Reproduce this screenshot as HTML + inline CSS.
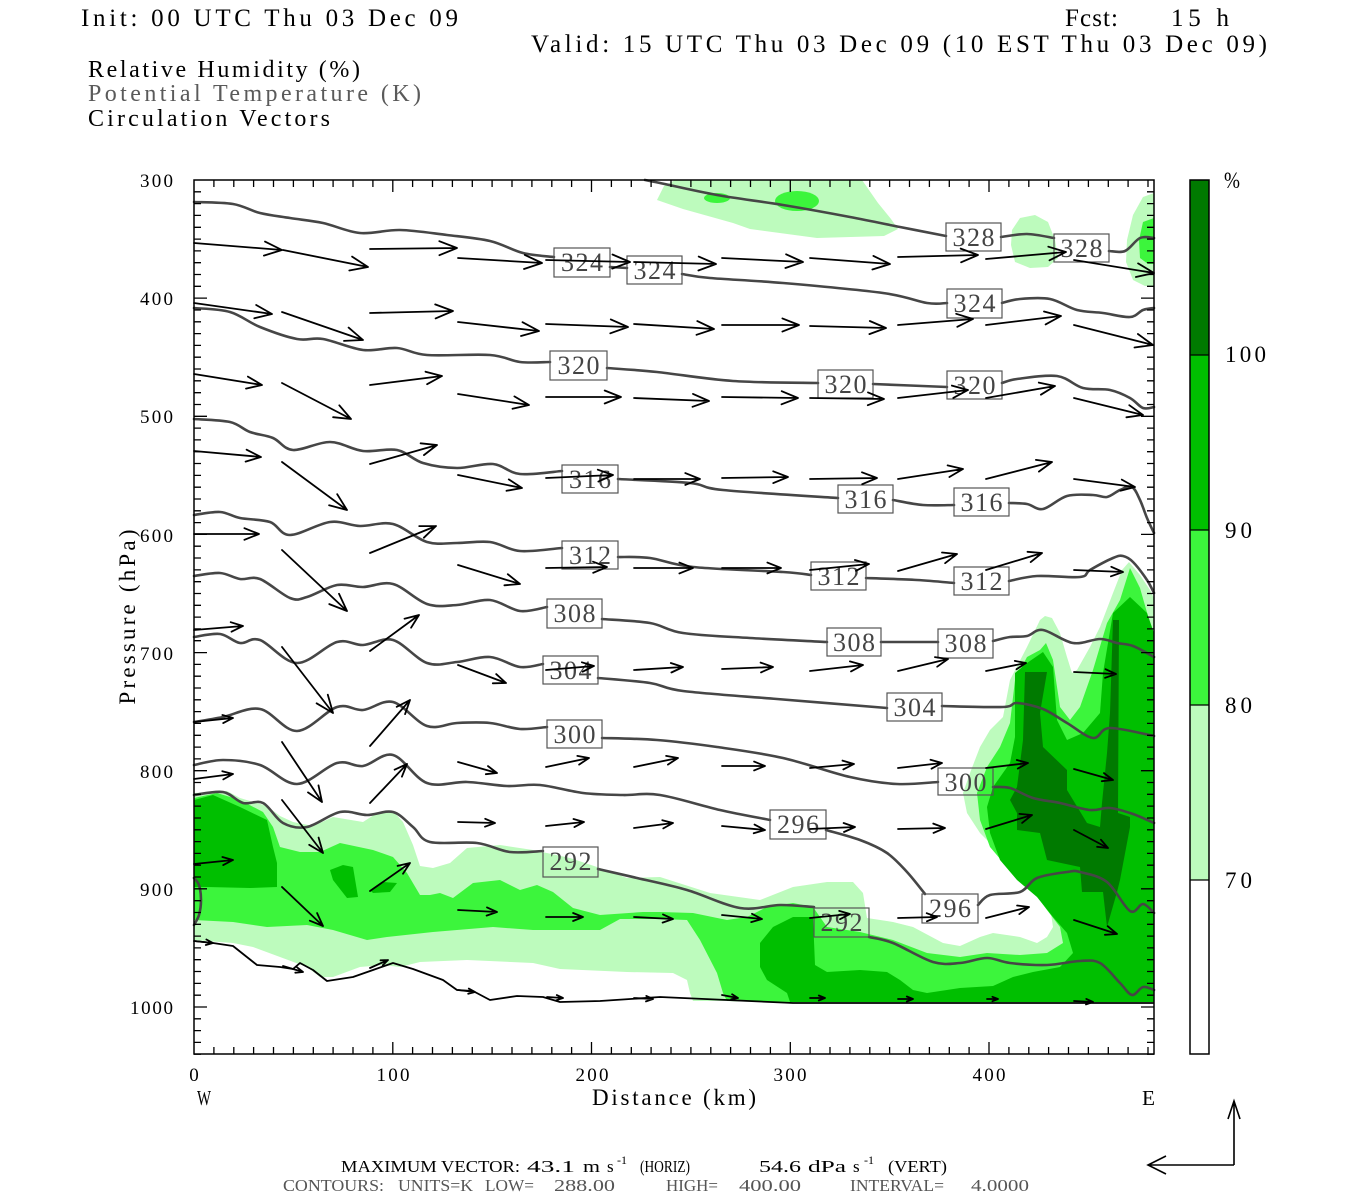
<!DOCTYPE html>
<html><head><meta charset="utf-8">
<style>
html,body{margin:0;padding:0;background:#fff;}
svg{display:block;}
text{font-family:"Liberation Serif",serif;}
</style></head>
<body>
<svg id="s" xmlns="http://www.w3.org/2000/svg" width="1350" height="1200" viewBox="0 0 1350 1200">
<rect width="1350" height="1200" fill="#fff"/>

<!-- header text -->
<text x="81" y="26" font-size="25" textLength="377" lengthAdjust="spacing">Init: 00 UTC Thu 03 Dec 09</text>
<text x="1065" y="26" font-size="25" textLength="53" lengthAdjust="spacing">Fcst:</text>
<text x="1171" y="26" font-size="25" textLength="58" lengthAdjust="spacing">15 h</text>
<text x="531" y="52" font-size="25" textLength="736" lengthAdjust="spacing">Valid: 15 UTC Thu 03 Dec 09 (10 EST Thu 03 Dec 09)</text>
<text x="88" y="77" font-size="24" textLength="272" lengthAdjust="spacing">Relative Humidity (%)</text>
<text x="88" y="101" font-size="24" textLength="333" lengthAdjust="spacing" fill="#5a5a5a">Potential Temperature (K)</text>
<text x="88" y="126" font-size="24" textLength="242" lengthAdjust="spacing">Circulation Vectors</text>

<!-- RH fills -->
<g stroke="none">
<polygon fill="#bdfbbd" points="657,200 664,186 675,180 862,180 878,203 891,219 898,229 884,236 817,238 750,229 733,223 683,209"/>
<ellipse fill="#3cf53c" cx="717" cy="198" rx="13" ry="5"/>
<ellipse fill="#3cf53c" cx="797" cy="201" rx="22" ry="10"/>
<polygon fill="#bdfbbd" points="1012,230 1020,218 1035,215 1048,222 1055,240 1058,258 1048,267 1030,268 1015,262 1011,245"/>
<polygon fill="#bdfbbd" points="1154,193 1143,197 1133,215 1127,240 1126,262 1133,280 1145,286 1154,286"/>
<polygon fill="#3cf53c" points="1154,218 1143,222 1139,240 1140,258 1148,264 1154,264"/>

<polygon fill="#bdfbbd" points="194,793 227,791 240,798 267,806 280,816 293,822 313,826 333,817 363,822 377,813 393,811 403,822 413,845 420,866 433,868 450,863 467,848 500,845 533,850 570,858 600,868 627,878 660,877 710,893 760,900 793,887 827,882 853,882 863,893 867,918 893,922 913,927 943,943 960,946 980,937 993,933 1020,937 1037,943 1047,937 1053,927 1050,907 1040,890 1027,880 1000,853 980,833 967,813 963,793 970,773 980,747 990,730 1003,717 1010,680 1027,647 1040,620 1045,616 1052,618 1060,633 1067,657 1072,673 1077,670 1090,647 1100,627 1113,593 1122,570 1129,562 1140,575 1150,590 1154,598 1154,1002 1020,1003 793,1003 727,1001 693,1001 690,993 687,980 673,973 627,972 560,969 533,963 467,960 420,962 400,967 383,965 360,967 333,977 320,977 307,967 280,957 253,947 233,943 194,940"/>

<polygon fill="#3cf53c" points="194,798 217,793 240,800 263,812 273,827 280,847 300,852 320,852 340,843 373,850 393,857 407,873 420,895 430,895 440,893 453,898 473,883 500,880 520,890 537,885 553,892 573,908 600,915 643,912 660,912 693,913 727,920 747,917 767,907 793,903 813,907 827,927 860,932 893,940 927,953 960,957 987,953 1020,955 1047,953 1063,943 1060,927 1047,910 1030,887 1007,867 990,847 980,820 977,793 987,767 1000,747 1010,723 1015,680 1027,657 1040,650 1046,643 1053,660 1060,707 1070,720 1080,707 1093,670 1107,623 1120,600 1130,568 1140,588 1150,623 1154,645 1154,1002 1020,1002 793,1002 727,1001 723,993 717,973 700,940 687,920 660,919 620,919 600,930 533,930 493,927 433,932 387,937 367,940 333,930 307,925 267,927 233,922 194,920"/>

<polygon fill="#00bf00" points="194,800 213,795 240,807 267,820 273,847 277,863 277,887 250,888 207,887 194,887"/>
<polygon fill="#00bf00" points="330,870 343,865 353,867 358,897 347,898 333,880"/>
<polygon fill="#00bf00" points="370,890 383,882 397,883 390,892 373,893"/>
<polygon fill="#00bf00" points="760,943 773,927 793,917 813,917 815,965 827,972 860,970 887,972 900,980 913,990 927,993 960,988 993,986 1013,977 1033,972 1060,967 1073,953 1067,933 1053,917 1037,897 1017,880 1000,860 990,833 987,807 993,787 1010,763 1015,737 1015,673 1027,663 1043,652 1053,667 1057,720 1067,740 1083,733 1100,713 1103,673 1113,613 1130,597 1147,613 1154,633 1154,1002 790,1002 787,993 767,980 760,967"/>

<polygon fill="#007a00" points="1025,672 1047,672 1040,713 1043,747 1067,770 1067,790 1087,823 1100,827 1102,803 1107,753 1110,713 1113,620 1119,620 1118,813 1130,817 1130,827 1120,880 1117,892 1107,927 1103,892 1082,892 1080,867 1047,860 1040,833 1017,830 1017,813 1010,800 1017,787 1023,740"/>
</g>

<!-- theta contours -->
<g id="cont" fill="none" stroke="#464646" stroke-width="2.6" stroke-linejoin="round" stroke-linecap="round">
<polyline points="645,180 660,183 717,195 783,205 850,217 900,227 946,236"/>
<polyline points="1001,237 1027,234 1054,238"/>
<polyline points="1109,251 1125,251 1140,238 1154,238"/>

<polyline points="194,202 233,204 260,213 290,218 323,223 360,233 400,230 447,235 490,241 523,253 554,257"/>
<polyline points="610,267 627,268"/>
<polyline points="682,274 710,278 783,283 883,293 927,303 947,303"/>
<polyline points="1002,303 1020,299 1050,299 1077,310 1103,313 1130,317 1143,310 1154,308"/>

<polyline points="194,308 230,312 260,327 297,339 323,339 363,350 397,348 427,355 490,355 520,362 550,362"/>
<polyline points="607,368 657,372 733,381 818,383"/>
<polyline points="873,384 947,387"/>
<polyline points="1002,383 1017,379 1057,376 1083,388 1110,390 1130,398 1143,408 1154,407"/>

<polyline points="194,419 230,422 250,432 273,438 293,450 330,442 363,451 397,450 423,463 457,468 493,464 520,474 562,471"/>
<polyline points="618,479 690,483 723,490 838,498"/>
<polyline points="893,500 923,505 954,505"/>
<polyline points="1009,503 1027,504 1043,509 1067,496 1093,495 1107,497 1120,490 1132,487 1140,500 1147,518 1154,533"/>

<polyline points="194,515 220,512 240,518 270,522 290,535 330,522 360,526 393,524 427,542 457,543 490,542 520,551 562,548"/>
<polyline points="618,557 650,558 693,567 783,572 811,575"/>
<polyline points="866,578 917,580 954,583"/>
<polyline points="1009,581 1037,576 1080,577 1090,570 1113,558 1123,556 1133,562 1147,580 1154,593"/>

<polyline points="194,576 220,573 240,579 260,579 290,598 307,597 337,585 363,587 393,584 427,604 457,605 490,600 520,611 547,607"/>
<polyline points="602,619 650,623 683,633 750,638 827,642"/>
<polyline points="881,642 938,642"/>
<polyline points="993,641 1010,637 1027,636 1043,630 1073,643 1100,639 1117,643 1133,646 1154,657"/>

<polyline points="194,637 220,634 240,643 260,640 297,663 337,642 363,645 393,640 427,663 457,662 490,657 520,667 543,664"/>
<polyline points="598,678 650,683 683,691 777,699 887,708"/>
<polyline points="942,706 1003,707 1017,703 1043,709 1067,723 1093,738 1110,728 1154,736"/>

<polyline points="194,722 223,717 260,709 297,731 337,707 363,710 393,702 427,726 457,723 490,723 520,729 547,727"/>
<polyline points="602,738 657,740 717,747 783,758 850,777 897,784 938,782"/>
<polyline points="993,787 1010,788 1033,798 1060,803 1090,810 1110,808 1133,814 1154,823"/>

<polyline points="194,765 223,760 260,765 297,784 337,763 363,766 393,755 427,783 467,782 507,786 540,785 583,793 623,795 660,795 720,810 770,820"/>
<polyline points="826,830 860,840 887,853 907,872 925,894"/>
<polyline points="978,905 990,895 1020,892 1037,878 1067,872 1080,872 1107,882 1130,911 1143,904 1154,913"/>

<polyline points="194,795 223,792 243,803 263,803 283,823 307,827 340,812 367,815 393,812 413,827 430,842 477,843 510,852 543,851"/>
<polyline points="598,869 637,878 687,890 740,908 780,905 814,907"/>
<polyline points="869,937 893,943 933,962 960,963 987,958 1010,963 1047,965 1080,961 1100,963 1120,983 1132,995 1143,987 1154,990"/>

<polyline points="194,878 199,885 201,900 199,915 194,925"/>
</g>
<g id="gnd" fill="none" stroke="#000" stroke-width="1.8" stroke-linejoin="round">
<polyline points="194,941 213,943 233,946 257,965 280,967 293,969 300,963 313,970 327,981 353,977 373,970 393,963 413,969 443,980 457,990 473,991 490,1000 517,996 543,997 560,1002 600,1001 660,997 793,1003 1020,1003 1154,1003"/>
</g>

<!-- contour labels -->
<g id="labs" fill="none" stroke="#555" stroke-width="1.2"></g>
<g id="labt" fill="#444" font-size="26" text-anchor="middle"></g>

<!-- vectors -->
<path id="arr" fill="none" stroke="#000" stroke-width="1.8" stroke-linecap="round" stroke-linejoin="round" d=""/>

<!-- frame and ticks -->
<rect x="194" y="180" width="960" height="874" fill="none" stroke="#000" stroke-width="1.5"/>
<path id="ticks" fill="none" stroke="#000" stroke-width="1.3" d=""/>

<!-- axis labels -->
<g font-size="19" text-anchor="end">
<text x="173" y="187" textLength="33" lengthAdjust="spacing">300</text>
<text x="173" y="305" textLength="33" lengthAdjust="spacing">400</text>
<text x="173" y="423" textLength="33" lengthAdjust="spacing">500</text>
<text x="173" y="542" textLength="33" lengthAdjust="spacing">600</text>
<text x="173" y="660" textLength="33" lengthAdjust="spacing">700</text>
<text x="173" y="778" textLength="33" lengthAdjust="spacing">800</text>
<text x="173" y="896" textLength="33" lengthAdjust="spacing">900</text>
<text x="173" y="1014" textLength="43" lengthAdjust="spacing">1000</text>
</g>
<g font-size="19" text-anchor="middle">
<text x="194" y="1081">0</text>
<text x="393" y="1081" textLength="33" lengthAdjust="spacing">100</text>
<text x="592" y="1081" textLength="33" lengthAdjust="spacing">200</text>
<text x="790" y="1081" textLength="33" lengthAdjust="spacing">300</text>
<text x="989" y="1081" textLength="33" lengthAdjust="spacing">400</text>
</g>
<text x="197" y="1105" font-size="21" textLength="14" lengthAdjust="spacingAndGlyphs">W</text>
<text x="592" y="1105" font-size="23" textLength="164" lengthAdjust="spacing">Distance (km)</text>
<text x="1142" y="1105" font-size="21" textLength="13" lengthAdjust="spacingAndGlyphs">E</text>
<text transform="translate(135,617) rotate(-90)" font-size="23" text-anchor="middle" textLength="175" lengthAdjust="spacing">Pressure (hPa)</text>

<!-- colorbar -->
<rect x="1190" y="180" width="19" height="175" fill="#007a00"/>
<rect x="1190" y="355" width="19" height="175" fill="#00bf00"/>
<rect x="1190" y="530" width="19" height="175" fill="#3cf53c"/>
<rect x="1190" y="705" width="19" height="175" fill="#bdfbbd"/>
<rect x="1190" y="880" width="19" height="174" fill="#fff"/>
<path d="M1190,355H1209M1190,530H1209M1190,705H1209M1190,880H1209" stroke="#000" stroke-width="1.2"/>
<rect x="1190" y="180" width="19" height="874" fill="none" stroke="#000" stroke-width="1.5"/>
<g font-size="23">
<text x="1224" y="188" textLength="16" lengthAdjust="spacingAndGlyphs">%</text>
<text x="1225" y="362" textLength="41" lengthAdjust="spacing">100</text>
<text x="1225" y="538" textLength="27" lengthAdjust="spacing">90</text>
<text x="1225" y="713" textLength="27" lengthAdjust="spacing">80</text>
<text x="1225" y="888" textLength="27" lengthAdjust="spacing">70</text>
</g>

<!-- footer -->
<g font-size="17">
<text x="341" y="1172" textLength="179" lengthAdjust="spacingAndGlyphs">MAXIMUM VECTOR:</text>
<text x="527" y="1172" textLength="48" lengthAdjust="spacingAndGlyphs">43.1</text>
<text x="583" y="1172" textLength="17" lengthAdjust="spacingAndGlyphs">m</text>
<text x="607" y="1172">s</text>
<text x="617" y="1164" font-size="12">-1</text>
<text x="640" y="1172" textLength="50" lengthAdjust="spacingAndGlyphs">(HORIZ)</text>
<text x="759" y="1172" textLength="42" lengthAdjust="spacingAndGlyphs">54.6</text>
<text x="808" y="1172" textLength="38" lengthAdjust="spacingAndGlyphs">dPa</text>
<text x="853" y="1172">s</text>
<text x="864" y="1164" font-size="12">-1</text>
<text x="888" y="1172" textLength="59" lengthAdjust="spacingAndGlyphs">(VERT)</text>
</g>
<g font-size="17" fill="#555">
<text x="283" y="1191" textLength="101" lengthAdjust="spacingAndGlyphs">CONTOURS:</text>
<text x="398" y="1191" textLength="75" lengthAdjust="spacingAndGlyphs">UNITS=K</text>
<text x="485" y="1191" textLength="49" lengthAdjust="spacingAndGlyphs">LOW=</text>
<text x="554" y="1191" textLength="61" lengthAdjust="spacingAndGlyphs">288.00</text>
<text x="666" y="1191" textLength="52" lengthAdjust="spacingAndGlyphs">HIGH=</text>
<text x="739" y="1191" textLength="62" lengthAdjust="spacingAndGlyphs">400.00</text>
<text x="850" y="1191" textLength="94" lengthAdjust="spacingAndGlyphs">INTERVAL=</text>
<text x="971" y="1191" textLength="58" lengthAdjust="spacingAndGlyphs">4.0000</text>
</g>
<path d="M1234,1165H1148M1166,1156L1148,1165L1166,1174M1234,1165V1101M1228,1119L1234,1101L1240,1119" fill="none" stroke="#000" stroke-width="1.6"/>
</svg>
<script>
(function(){
var NS="http://www.w3.org/2000/svg";
// smooth contour polylines
function smoothGroup(id){
  var g=document.getElementById(id);
  var pls=g.querySelectorAll("polyline");
  for(var q=0;q<pls.length;q++){
    var pl=pls[q];
    var raw=pl.getAttribute("points").trim().split(/\s+/);
    var P=[];
    for(var r=0;r<raw.length;r++){var c=raw[r].split(",");P.push([+c[0],+c[1]]);}
    var d="M"+P[0][0]+","+P[0][1];
    for(var i=0;i<P.length-1;i++){
      var p0=P[i-1]||P[i],p1=P[i],p2=P[i+1],p3=P[i+2]||P[i+1];
      var c1x=p1[0]+(p2[0]-p0[0])/6,c1y=p1[1]+(p2[1]-p0[1])/6;
      var c2x=p2[0]-(p3[0]-p1[0])/6,c2y=p2[1]-(p3[1]-p1[1])/6;
      d+="C"+c1x.toFixed(1)+","+c1y.toFixed(1)+" "+c2x.toFixed(1)+","+c2y.toFixed(1)+" "+p2[0]+","+p2[1];
    }
    var pa=document.createElementNS(NS,"path");
    pa.setAttribute("d",d);
    g.replaceChild(pa,pl);
  }
}
smoothGroup("cont");
// ticks
var d="";
for(var p=310;p<=1040;p+=10){
  var y=(180+(p-300)*1.1814).toFixed(1);
  var L=(p%100===0)?13:7;
  d+="M194,"+y+"h"+L+"M1154,"+y+"h-"+L;
}
for(var k=10;k<=480;k+=10){
  var x=(194+k*1.9875).toFixed(1);
  var L2=(k%100===0)?12:7;
  d+="M"+x+",180v"+L2+"M"+x+",1054v-"+L2;
}
document.getElementById("ticks").setAttribute("d",d);
// arrows
var A=[
[194,243,282,250],[283,250,368,267],[370,249,457,248],[458,258,542,263],[546,260,630,262],[634,262,716,264],[722,258,803,262],[810,258,890,264],[898,257,978,255],[986,259,1066,252],[1074,260,1154,273],
[194,303,272,314],[282,312,363,340],[370,313,453,311],[458,322,539,331],[546,324,628,327],[634,324,714,329],[722,325,799,325],[810,326,886,328],[898,325,973,319],[986,325,1061,316],[1074,325,1153,345],
[194,374,262,385],[282,383,351,419],[370,385,442,376],[458,394,529,405],[546,397,621,397],[634,398,709,401],[722,397,798,398],[810,398,884,399],[898,398,968,390],[986,398,1055,386],[1074,398,1143,415],
[194,451,261,457],[282,462,347,510],[370,464,437,445],[458,475,522,488],[546,478,613,475],[634,479,700,479],[722,478,788,477],[810,479,877,478],[898,479,963,469],[986,479,1052,462],[1074,479,1135,487],
[194,534,259,534],[282,550,347,611],[370,553,436,526],[458,565,520,584],[546,568,607,567],[634,568,693,568],[722,568,781,568],[810,570,869,564],[898,571,957,554],[986,570,1042,553],[1074,570,1123,572],
[194,630,243,626],[282,647,333,713],[370,651,419,615],[458,665,506,683],[546,670,594,666],[634,670,683,667],[722,669,773,667],[810,671,863,665],[898,671,948,659],[986,671,1026,663],[1074,672,1116,674],
[194,722,233,718],[282,742,322,802],[370,746,410,700],[458,762,497,773],[546,767,589,758],[634,767,678,758],[722,766,765,766],[810,768,854,764],[898,768,942,763],[986,768,1028,763],[1074,769,1113,780],
[194,779,233,774],[282,800,323,853],[370,803,407,764],[458,822,495,823],[546,826,584,822],[634,828,673,823],[722,826,765,830],[810,829,855,827],[898,829,945,828],[986,829,1032,815],[1074,830,1108,848],
[194,864,233,860],[282,887,323,926],[370,891,410,863],[458,910,497,912],[546,917,583,917],[634,917,673,919],[722,915,762,919],[810,918,850,914],[898,918,937,917],[986,918,1029,907],[1074,920,1117,934],
[194,941,213,943],[283,966,303,972],[370,968,388,960],[458,990,475,992],[547,997,563,998],[634,998,653,999],[722,995,738,998],[810,998,825,998],[898,999,913,999],[987,999,998,999],[1074,1001,1093,1002]
];
var ad="";
for(var i=0;i<A.length;i++){
  var a=A[i],x1=a[0],y1=a[1],x2=a[2],y2=a[3];
  var dx=x2-x1,dy=y2-y1,len=Math.sqrt(dx*dx+dy*dy);
  var h=Math.min(19,4+0.18*len),an=Math.atan2(dy,dx),t=0.38;
  var p1x=x2-h*Math.cos(an-t),p1y=y2-h*Math.sin(an-t);
  var p2x=x2-h*Math.cos(an+t),p2y=y2-h*Math.sin(an+t);
  ad+="M"+x1+","+y1+"L"+x2+","+y2+"M"+p1x.toFixed(1)+","+p1y.toFixed(1)+"L"+x2+","+y2+"L"+p2x.toFixed(1)+","+p2y.toFixed(1);
}
document.getElementById("arr").setAttribute("d",ad);
// labels
var Lb=[
[946,223,1001,251,"328"],[1054,234,1109,262,"328"],
[554,248,610,277,"324"],[627,256,682,284,"324"],[947,289,1002,318,"324"],
[550,351,607,380,"320"],[818,370,873,398,"320"],[947,371,1002,399,"320"],
[562,465,618,493,"316"],[838,485,893,513,"316"],[954,488,1009,516,"316"],
[562,541,618,569,"312"],[811,562,866,590,"312"],[954,567,1009,595,"312"],
[547,599,602,628,"308"],[827,628,881,656,"308"],[938,629,993,658,"308"],
[543,656,598,684,"304"],[887,693,942,721,"304"],
[547,720,602,748,"300"],[938,768,993,795,"300"],
[770,810,826,839,"296"],[922,894,978,923,"296"],
[543,847,598,877,"292"],[814,908,869,937,"292"]
];
var gb=document.getElementById("labs"),gt=document.getElementById("labt");
for(var j=0;j<Lb.length;j++){
  var b=Lb[j];
  var r=document.createElementNS(NS,"rect");
  r.setAttribute("x",b[0]);r.setAttribute("y",b[1]);
  r.setAttribute("width",b[2]-b[0]);r.setAttribute("height",b[3]-b[1]);
  gb.appendChild(r);
  var tx=document.createElementNS(NS,"text");
  tx.setAttribute("x",(b[0]+b[2])/2);tx.setAttribute("y",b[1]+23);
  tx.setAttribute("textLength","42");tx.setAttribute("lengthAdjust","spacing");
  tx.textContent=b[4];
  gt.appendChild(tx);
}
})();
</script>
</body></html>
